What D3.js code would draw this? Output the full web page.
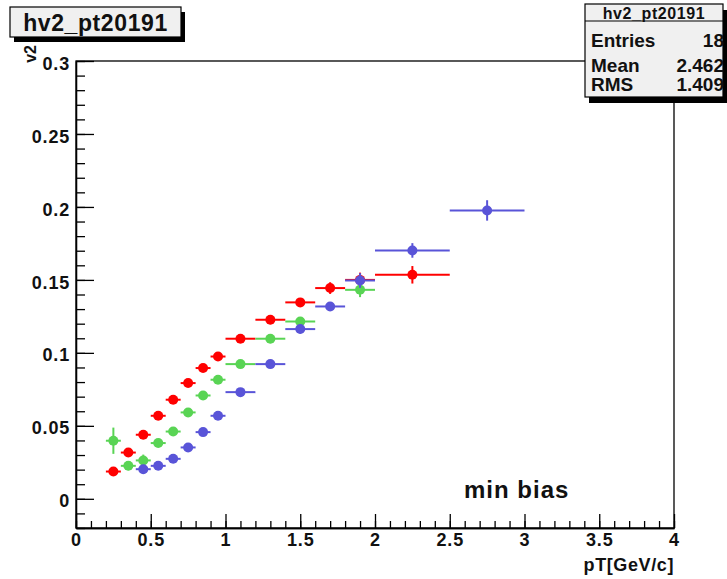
<!DOCTYPE html>
<html>
<head>
<meta charset="utf-8">
<script src="https://cdn.jsdelivr.net/npm/d3@7"></script>
<style>
  body { margin: 0; background: #fff; }
  svg { display: block; }
  text { font-family: "Liberation Sans", Arial, sans-serif; font-weight: bold; fill: #111; }
</style>
</head>
<body>
<svg id="chart" width="727" height="579"></svg>
<script>
// v2 vs pT, three centrality selections (red, green, blue)
const redX   = [0.25, 0.35, 0.45, 0.55, 0.65, 0.75, 0.85, 0.95, 1.1, 1.3, 1.5, 1.7, 1.9, 2.25];
const redXErr= [0.05, 0.05, 0.05, 0.05, 0.05, 0.05, 0.05, 0.05, 0.1, 0.1, 0.1, 0.1, 0.1, 0.25];
const redY   = [0.0187, 0.0317, 0.0439, 0.0569, 0.0679, 0.0793, 0.0896, 0.0975, 0.1097, 0.1227, 0.1346, 0.1444, 0.1500, 0.1535];
const redYErr= [0.002, 0.002, 0.002, 0.002, 0.002, 0.002, 0.002, 0.002, 0.002, 0.003, 0.003, 0.004, 0.005, 0.006];

const greenX   = [0.25, 0.35, 0.45, 0.55, 0.65, 0.75, 0.85, 0.95, 1.1, 1.3, 1.5, 1.9];
const greenXErr= [0.05, 0.05, 0.05, 0.05, 0.05, 0.05, 0.05, 0.05, 0.1, 0.1, 0.1, 0.1];
const greenY   = [0.0398, 0.0226, 0.0263, 0.0382, 0.0461, 0.0592, 0.0708, 0.0816, 0.0923, 0.1097, 0.1215, 0.1432];
const greenYErr= [0.009, 0.003, 0.004, 0.002, 0.002, 0.002, 0.002, 0.002, 0.002, 0.003, 0.003, 0.005];

const blueX   = [0.45, 0.55, 0.65, 0.75, 0.85, 0.95, 1.1, 1.3, 1.5, 1.7, 1.9, 2.25, 2.75];
const blueXErr= [0.05, 0.05, 0.05, 0.05, 0.05, 0.05, 0.1, 0.1, 0.1, 0.1, 0.1, 0.25, 0.25];
const blueY   = [0.0203, 0.0226, 0.0274, 0.0352, 0.0457, 0.0569, 0.0731, 0.0923, 0.1163, 0.1318, 0.1496, 0.1702, 0.1976];
const blueYErr= [0.003, 0.002, 0.002, 0.002, 0.002, 0.002, 0.002, 0.002, 0.003, 0.003, 0.005, 0.005, 0.007];

const xMajorTicks = [0, 0.5, 1, 1.5, 2, 2.5, 3, 3.5, 4];
const xTickLabels = ["0", "0.5", "1", "1.5", "2", "2.5", "3", "3.5", "4"];
const yMajorTicks = [0, 0.05, 0.1, 0.15, 0.2, 0.25, 0.3];
const yTickLabels = ["0", "0.05", "0.1", "0.15", "0.2", "0.25", "0.3"];

const statsLabels = ["Entries", "Mean", "RMS"];
const statsValues = ["18", "2.462", "1.409"];

const histName = "hv2_pt20191";

const series = [
  { color: "#ff0000", x: redX,   xe: redXErr,   y: redY,   ye: redYErr },
  { color: "#59d454", x: greenX, xe: greenXErr, y: greenY, ye: greenYErr },
  { color: "#5954d8", x: blueX,  xe: blueXErr,  y: blueY,  ye: blueYErr }
];

const svg = d3.select("#chart");
const frame = { left: 76, right: 674, top: 61, bottom: 528 };

const x = d3.scaleLinear().domain([0, 4]).range([frame.left, frame.right]);
const y = d3.scaleLinear().domain([-0.02, 0.3]).range([frame.bottom, frame.top]);

// frame
svg.append("rect")
  .attr("x", frame.left).attr("y", frame.top)
  .attr("width", frame.right - frame.left).attr("height", frame.bottom - frame.top)
  .attr("fill", "#fff").attr("stroke", "#000").attr("stroke-width", 1.3);

const fmtX = d => xTickLabels[xMajorTicks.indexOf(d)];
const fmtY = d => yTickLabels[yMajorTicks.findIndex(v => Math.abs(v - d) < 1e-9)];

const xMinor = d3.range(0, 41).map(i => i / 10);
const yMinor = d3.range(-2, 31).map(i => i / 100);

// x axis: inward ticks
const gxMinor = svg.append("g").attr("transform", `translate(0,${frame.bottom})`)
  .call(d3.axisBottom(x).tickValues(xMinor).tickSizeInner(-7).tickSizeOuter(0).tickFormat(""));
const gx = svg.append("g").attr("transform", `translate(0,${frame.bottom})`)
  .call(d3.axisBottom(x).tickValues(xMajorTicks).tickSizeInner(-14).tickSizeOuter(0).tickPadding(4).tickFormat(fmtX));

// y axis: inward ticks
const gyMinor = svg.append("g").attr("transform", `translate(${frame.left},0)`)
  .call(d3.axisLeft(y).tickValues(yMinor).tickSizeInner(-9).tickSizeOuter(0).tickFormat(""));
const gy = svg.append("g").attr("transform", `translate(${frame.left},0)`)
  .call(d3.axisLeft(y).tickValues(yMajorTicks).tickSizeInner(-18).tickSizeOuter(0).tickPadding(6).tickFormat(fmtY));

[gx, gxMinor, gy, gyMinor].forEach(g => {
  g.select(".domain").attr("stroke", "#000").attr("stroke-width", 1.3);
  g.selectAll(".tick line").attr("stroke", "#000").attr("stroke-width", 1.3);
  g.selectAll(".tick text")
    .attr("font-family", "Liberation Sans, Arial, sans-serif")
    .attr("font-weight", "bold").attr("font-size", 18)
    .attr("letter-spacing", 0.8).attr("fill", "#111");
});
gx.selectAll(".tick text").attr("dy", "0.8em");
gy.selectAll(".tick text").attr("dy", "0.45em");

// axis titles
svg.append("text").attr("x", frame.right).attr("y", 571)
  .attr("text-anchor", "end").attr("font-size", 18).attr("letter-spacing", 0.6)
  .text("pT[GeV/c]");
svg.append("text").attr("transform", "translate(36,45) rotate(-90)")
  .attr("text-anchor", "end").attr("font-size", 16)
  .text("v2");

// data: error bars then markers, series drawn in order
const plot = svg.append("g");
series.forEach(s => {
  const pts = s.x.map((v, i) => ({ x: v, xe: s.xe[i], y: s.y[i], ye: s.ye[i] }));
  const g = plot.append("g");
  g.selectAll("line.h").data(pts).join("line").attr("class", "h")
    .attr("x1", d => x(d.x - d.xe)).attr("x2", d => x(d.x + d.xe))
    .attr("y1", d => y(d.y)).attr("y2", d => y(d.y))
    .attr("stroke", s.color).attr("stroke-width", 2);
  g.selectAll("line.v").data(pts).join("line").attr("class", "v")
    .attr("x1", d => x(d.x)).attr("x2", d => x(d.x))
    .attr("y1", d => y(d.y - d.ye)).attr("y2", d => y(d.y + d.ye))
    .attr("stroke", s.color).attr("stroke-width", 2);
  g.selectAll("circle").data(pts).join("circle")
    .attr("cx", d => x(d.x)).attr("cy", d => y(d.y)).attr("r", 5)
    .attr("fill", s.color);
});

// annotation
svg.append("text").attr("x", 464).attr("y", 498)
  .attr("font-size", 24).attr("letter-spacing", 1)
  .text("min bias");

// title box
svg.append("rect").attr("x", 14).attr("y", 12).attr("width", 171).attr("height", 30).attr("fill", "#000");
svg.append("rect").attr("x", 10).attr("y", 7).attr("width", 171).attr("height", 30)
  .attr("fill", "#f0f0f0").attr("stroke", "#000").attr("stroke-width", 1.2);
svg.append("text").attr("x", 95.5).attr("y", 31)
  .attr("text-anchor", "middle").attr("font-size", 23).attr("letter-spacing", 0.6)
  .text(histName);

// statistics box
const sb = { x: 585, y: 4, w: 138, h: 93 };
svg.append("rect").attr("x", sb.x + 4).attr("y", sb.y + 6).attr("width", sb.w).attr("height", sb.h).attr("fill", "#000");
svg.append("rect").attr("x", sb.x).attr("y", sb.y).attr("width", sb.w).attr("height", sb.h)
  .attr("fill", "#f0f0f0").attr("stroke", "#000").attr("stroke-width", 1.2);
svg.append("line").attr("x1", sb.x).attr("x2", sb.x + sb.w).attr("y1", 21).attr("y2", 21)
  .attr("stroke", "#000").attr("stroke-width", 1.2);
svg.append("text").attr("x", sb.x + sb.w / 2).attr("y", 18.5)
  .attr("text-anchor", "middle").attr("font-size", 16).attr("font-weight", "normal").attr("letter-spacing", 0.6)
  .text(histName);
const rowY = [47, 72, 91];
statsLabels.forEach((lab, i) => {
  svg.append("text").attr("x", sb.x + 6).attr("y", rowY[i]).attr("font-size", 19).text(lab);
  svg.append("text").attr("x", sb.x + sb.w + 1).attr("y", rowY[i]).attr("text-anchor", "end")
    .attr("font-size", 19).text(statsValues[i]);
});
</script>
</body>
</html>
